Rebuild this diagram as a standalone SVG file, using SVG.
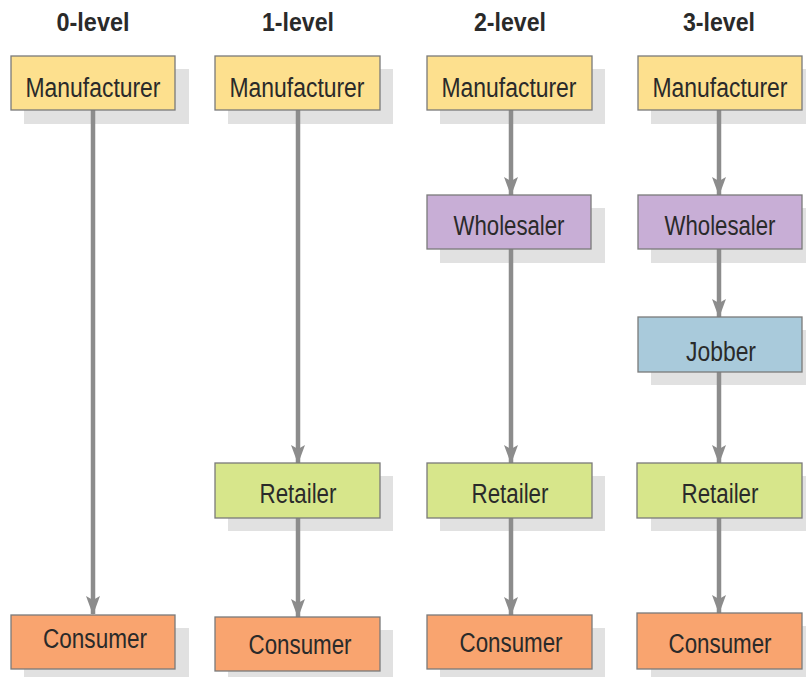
<svg xmlns="http://www.w3.org/2000/svg" width="806" height="677" viewBox="0 0 806 677">
<style>
.hdr{font-family:"Liberation Sans",Arial,sans-serif;font-weight:bold;font-size:25px;fill:#2a2a2a;text-anchor:middle}
.lbl{font-family:"Liberation Sans",Arial,sans-serif;font-size:27px;fill:#2a2a2a;text-anchor:middle}
.sh{fill:#e1e1e1}
.box{stroke:#7a7a7a;stroke-width:1.3}
.man{fill:#fde08e}
.who{fill:#c8aed6}
.job{fill:#a9cadb}
.ret{fill:#d7e68b}
.con{fill:#f9a46f}
.arr{stroke:#8c8c8c;stroke-width:4.5;fill:none;marker-end:url(#ah)}
</style>
<defs>
<marker id="ah" markerUnits="userSpaceOnUse" viewBox="0 0 19 14" refX="18" refY="7" markerWidth="19" markerHeight="14" orient="auto">
<path d="M0,0 L4,7 L0,14 L19,7 Z" fill="#8c8c8c"/>
</marker>
</defs>
<rect width="806" height="677" fill="#ffffff"/>
<g id="headers">
<text class="hdr" x="93" y="31" textLength="73" lengthAdjust="spacingAndGlyphs">0-level</text>
<text class="hdr" x="298" y="31" textLength="72" lengthAdjust="spacingAndGlyphs">1-level</text>
<text class="hdr" x="510" y="31" textLength="72" lengthAdjust="spacingAndGlyphs">2-level</text>
<text class="hdr" x="719" y="31" textLength="72" lengthAdjust="spacingAndGlyphs">3-level</text>
</g>
<g id="shadows">
<rect class="sh" x="24" y="69" width="165" height="55"/>
<rect class="sh" x="24" y="628" width="165" height="55"/>
<rect class="sh" x="228" y="69" width="165" height="55"/>
<rect class="sh" x="228" y="476" width="165" height="55"/>
<rect class="sh" x="228" y="630" width="165" height="55"/>
<rect class="sh" x="440" y="69" width="165" height="55"/>
<rect class="sh" x="440" y="208" width="165" height="55"/>
<rect class="sh" x="440" y="476" width="165" height="55"/>
<rect class="sh" x="440" y="628" width="165" height="55"/>
<rect class="sh" x="651" y="69" width="165" height="55"/>
<rect class="sh" x="651" y="208" width="165" height="55"/>
<rect class="sh" x="651" y="330" width="165" height="55"/>
<rect class="sh" x="651" y="476" width="165" height="55"/>
<rect class="sh" x="651" y="626" width="165" height="55"/>
</g>
<g id="connectors">
<line class="arr" x1="93" y1="110" x2="93" y2="614"/>
<line class="arr" x1="298" y1="110" x2="298" y2="463"/>
<line class="arr" x1="298" y1="518" x2="298" y2="617"/>
<line class="arr" x1="511" y1="110" x2="511" y2="195"/>
<line class="arr" x1="511" y1="249" x2="511" y2="463"/>
<line class="arr" x1="511" y1="518" x2="511" y2="615"/>
<line class="arr" x1="719" y1="110" x2="719" y2="195"/>
<line class="arr" x1="719" y1="249" x2="719" y2="317"/>
<line class="arr" x1="719" y1="372" x2="719" y2="463"/>
<line class="arr" x1="719" y1="518" x2="719" y2="613"/>
</g>
<g id="c0-manufacturer"><rect class="box man" x="11" y="56" width="164" height="54"/><text class="lbl" x="93" y="97" textLength="135" lengthAdjust="spacingAndGlyphs">Manufacturer</text></g>
<g id="c0-consumer"><rect class="box con" x="11" y="615" width="164" height="54"/><text class="lbl" x="95" y="648" textLength="104" lengthAdjust="spacingAndGlyphs">Consumer</text></g>
<g id="c1-manufacturer"><rect class="box man" x="215" y="56" width="165" height="54"/><text class="lbl" x="297" y="97" textLength="135" lengthAdjust="spacingAndGlyphs">Manufacturer</text></g>
<g id="c1-retailer"><rect class="box ret" x="215" y="463" width="165" height="55"/><text class="lbl" x="298" y="503" textLength="77" lengthAdjust="spacingAndGlyphs">Retailer</text></g>
<g id="c1-consumer"><rect class="box con" x="215" y="617" width="165" height="54"/><text class="lbl" x="300" y="654" textLength="103" lengthAdjust="spacingAndGlyphs">Consumer</text></g>
<g id="c2-manufacturer"><rect class="box man" x="427" y="56" width="165" height="54"/><text class="lbl" x="509" y="97" textLength="135" lengthAdjust="spacingAndGlyphs">Manufacturer</text></g>
<g id="c2-wholesaler"><rect class="box who" x="427" y="195" width="164" height="54"/><text class="lbl" x="509" y="235" textLength="111" lengthAdjust="spacingAndGlyphs">Wholesaler</text></g>
<g id="c2-retailer"><rect class="box ret" x="427" y="463" width="165" height="55"/><text class="lbl" x="510" y="503" textLength="77" lengthAdjust="spacingAndGlyphs">Retailer</text></g>
<g id="c2-consumer"><rect class="box con" x="427" y="615" width="165" height="54"/><text class="lbl" x="511" y="652" textLength="103" lengthAdjust="spacingAndGlyphs">Consumer</text></g>
<g id="c3-manufacturer"><rect class="box man" x="638" y="56" width="164" height="54"/><text class="lbl" x="720" y="97" textLength="135" lengthAdjust="spacingAndGlyphs">Manufacturer</text></g>
<g id="c3-wholesaler"><rect class="box who" x="638" y="195" width="164" height="54"/><text class="lbl" x="720" y="235" textLength="111" lengthAdjust="spacingAndGlyphs">Wholesaler</text></g>
<g id="c3-jobber"><rect class="box job" x="638" y="317" width="164" height="55"/><text class="lbl" x="721" y="361" textLength="70" lengthAdjust="spacingAndGlyphs">Jobber</text></g>
<g id="c3-retailer"><rect class="box ret" x="637" y="463" width="165" height="55"/><text class="lbl" x="720" y="503" textLength="77" lengthAdjust="spacingAndGlyphs">Retailer</text></g>
<g id="c3-consumer"><rect class="box con" x="637" y="613" width="165" height="56"/><text class="lbl" x="720" y="653" textLength="103" lengthAdjust="spacingAndGlyphs">Consumer</text></g>
</svg>
